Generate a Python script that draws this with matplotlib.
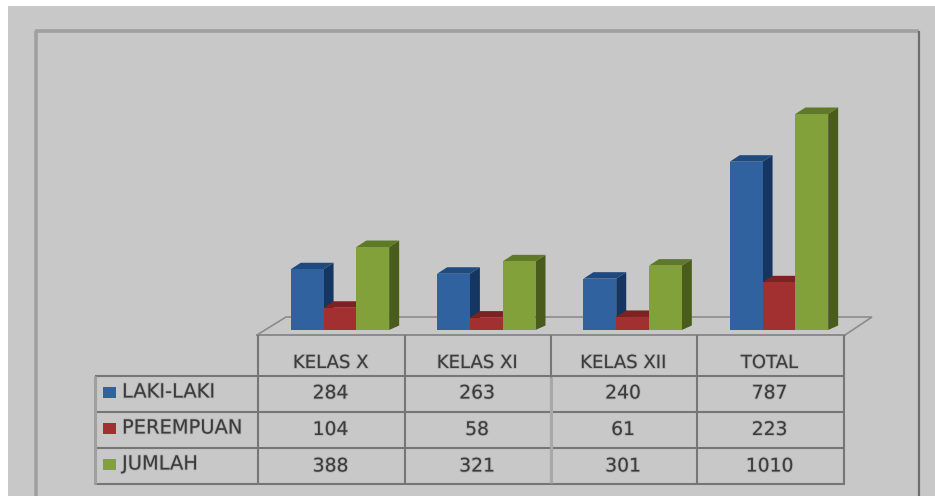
import matplotlib
matplotlib.use("Agg")
import matplotlib.pyplot as plt
import matplotlib.patheffects as pe
from matplotlib.patches import Polygon, Rectangle

plt.rcParams['font.family'] = ['DejaVu Sans']

categories = ["KELAS X", "KELAS XI", "KELAS XII", "TOTAL"]
series_names = ["LAKI-LAKI", "PEREMPUAN", "JUMLAH"]
laki_laki = [284, 263, 240, 787]
perempuan = [104, 58, 61, 223]
jumlah = [388, 321, 301, 1010]
series_values = [laki_laki, perempuan, jumlah]
front_colors = ["#30629f", "#a33030", "#83a13a"]
side_colors = ["#143660", "#6a1c1c", "#4a5c1c"]
top_colors = ["#1f4a80", "#7c2222", "#5f7a26"]

W, H = 935, 496
BG = "#c8c8c8"
FRAME = "#a0a0a0"
LINE = "#767676"
TXT = "#3c3c3c"
soft = [pe.withStroke(linewidth=1.3, foreground="#8a8a8a", alpha=0.35)]

fig = plt.figure(figsize=(W / 100, H / 100), dpi=100, facecolor="white")

# page layer in pixel coordinates
page = fig.add_axes([0, 0, 1, 1])
page.set_xlim(0, W)
page.set_ylim(H, 0)
page.axis("off")
page.add_patch(Rectangle((8, 6), 927, 490, fc=BG, ec="none"))
page.plot([36, 36], [496, 31], color=FRAME, lw=2.6, zorder=1, solid_capstyle="butt")
page.plot([35, 919], [31, 31], color=FRAME, lw=2.6, zorder=1, solid_capstyle="butt")
page.plot([919, 919], [31, 496], color="#6e6e6e", lw=1.6, zorder=1, solid_capstyle="butt")

# floor of the 3D plot
page.add_patch(Polygon([(257, 335), (286, 317), (872, 317), (845, 335)], closed=True,
                       fc="none", ec="#8c8c8c", lw=1.2, zorder=2))

# chart layer: x in categories, y in data values
px_per_unit = 216 / 1010
cell = 146.33
left, base = 257, 330
top = 20
ax = fig.add_axes([left / W, (H - base) / H, 4 * cell / W, (base - top) / H])
ax.set_xlim(-0.5, 3.5)
ax.set_ylim(0, (base - top) / px_per_unit)
ax.axis("off")
ax.patch.set_alpha(0)

bar_w = 32.8 / cell
group_offset = 9.8 / cell
dx = 10 / cell
dy = 6.5 / px_per_unit
dy_base = 4.5 / px_per_unit

for s, vals in enumerate(series_values):
    offs = [i + group_offset + (s - 1) * bar_w for i in range(len(vals))]
    ax.bar(offs, vals, width=bar_w, color=front_colors[s], zorder=5 + s * 2)
    for x, v in zip(offs, vals):
        l, r = x - bar_w / 2, x + bar_w / 2
        ax.add_patch(Polygon([(r, 0), (r + dx, dy_base), (r + dx, v + dy), (r, v)], closed=True,
                             fc=side_colors[s], ec="none", zorder=4 + s * 2))
        ax.add_patch(Polygon([(l, v), (l + dx, v + dy), (r + dx, v + dy), (r, v)], closed=True,
                             fc=top_colors[s], ec="none", zorder=4 + s * 2))

# data table
xs = [258, 405, 551, 697, 844]
ys = [375.5, 412, 448, 483.5]
tl = dict(color=LINE, lw=1.5, zorder=3, solid_capstyle="butt")
for y in ys:
    page.plot([95, 845], [y, y], **tl)
page.plot([257, 845], [335, 335], color="#8c8c8c", lw=1.4, zorder=3)
page.plot([95, 95], [ys[0], ys[-1]], color=FRAME, lw=2.2, zorder=3, solid_capstyle="butt")
for x in xs:
    page.plot([x, x], [335, ys[-1]], **tl)
page.plot([551, 551], [ys[0] + 1, ys[-1] - 1], color="#a8a8a8", lw=2.2, zorder=3, solid_capstyle="butt")

for i, c in enumerate(categories):
    page.text((xs[i] + xs[i + 1]) / 2 - 1, 363, c, ha="center", va="center",
              fontsize=13, color=TXT, zorder=20, path_effects=soft)
swatch_tops = [387, 423, 459]
label_ys = [392, 428, 464]
value_ys = [393, 429.5, 466]
for s, name in enumerate(series_names):
    page.add_patch(Rectangle((103, swatch_tops[s]), 13, 10.5, fc=front_colors[s], ec="none", zorder=4))
    page.text(122, label_ys[s], name, ha="left", va="center", fontsize=14, color=TXT, zorder=20,
              path_effects=soft)
    for i, v in enumerate(series_values[s]):
        page.text((xs[i] + xs[i + 1]) / 2 - 1, value_ys[s], str(v), ha="center", va="center",
                  fontsize=13.5, color=TXT, zorder=20, path_effects=soft)

fig.savefig("out.png", dpi=100, facecolor="white")
